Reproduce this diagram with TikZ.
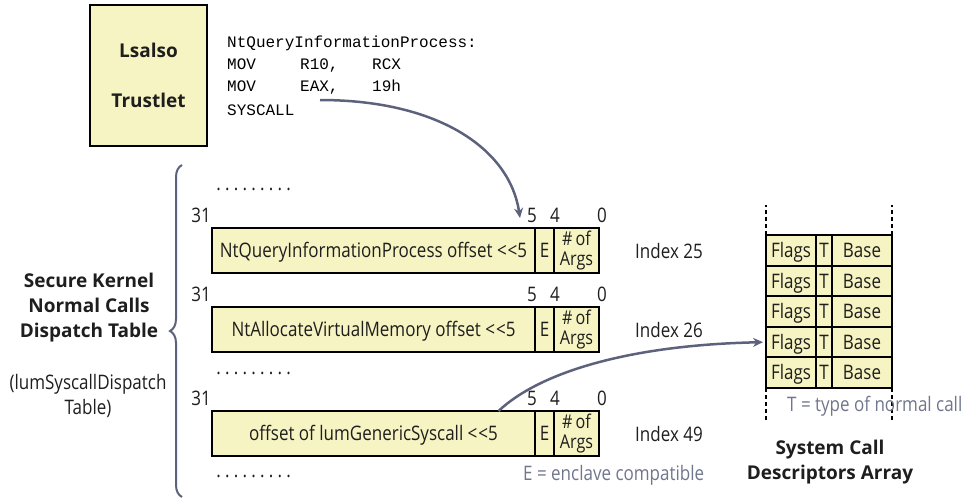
\documentclass[tikz,border=0pt]{standalone}
\usepackage{fontspec}
\setmainfont{Open Sans}[FakeStretch=0.85]
\setmonofont{Liberation Mono}
\newfontfamily\headfont{Open Sans}
\usetikzlibrary{arrows.meta, positioning, decorations.pathreplacing}
\definecolor{cellyellow}{RGB}{246, 244, 194}
\definecolor{slateline}{RGB}{92, 98, 124}
\definecolor{notegray}{RGB}{112, 118, 140}
\definecolor{inkdark}{RGB}{30, 30, 30}
\newcommand{\onedot}{\makebox[8.75pt]{.}}
\newcommand{\dotrow}{\onedot\onedot\onedot\onedot\onedot\onedot\onedot\onedot\onedot}

\begin{document}
\begin{tikzpicture}[x=1pt, y=-1pt,
    lbl/.style={font=\fontsize{20}{25}\selectfont, text=inkdark, inner sep=0, align=center},
    headlbl/.style={font=\headfont\bfseries\fontsize{19}{25}\selectfont, text=inkdark, inner sep=0, align=center},
    note/.style={font=\fontsize{20}{25}\selectfont, text=notegray, inner sep=0, anchor=west},
    cell/.style={draw=black, line width=2pt, fill=cellyellow, inner sep=0, outer sep=0,
      font=\fontsize{20}{18}\selectfont, text=inkdark, align=center},
    capcell/.style={cell, text height=14.2pt, text depth=0pt},
    codeline/.style={font=\ttfamily\fontsize{16}{22}\selectfont, anchor=west, inner sep=0, text=black},
    flow/.style={slateline, line width=2.5pt, -{Stealth[length=10pt, width=9pt]}}]
  \useasboundingbox (0,0) rectangle (974,499);

  % trustlet and its stub
  \node[cell, line width=2.5pt, minimum width=117pt, minimum height=141pt,
        font=\headfont\bfseries\fontsize{19}{50}\selectfont] (trustlet) at (148.5,75.5) {Lsalso\\Trustlet};
  \node[codeline] (code1) at (227,43) {NtQueryInformationProcess:};
  \node[codeline] (code2) at (227,66) {\makebox[73pt][l]{MOV}\makebox[72pt][l]{R10,}RCX};
  \node[codeline] (code3) at (227,87) {\makebox[73pt][l]{MOV}\makebox[72pt][l]{EAX,}19h};
  \node[codeline] (code4) at (227,110) {SYSCALL};

  % dispatch table entries
  \foreach \row/\top/\entry/\idx in {a/228/NtQueryInformationProcess offset <\kern1pt<5/25,
                                      b/307/NtAllocateVirtualMemory offset <\kern1pt<5/26,
                                      c/411/offset of lumGenericSyscall <\kern1pt<5/49} {
    \node[capcell, anchor=north west, minimum width=323pt, minimum height=45pt] (main\row) at (212,\top) {\entry};
    \node[capcell, minimum width=19pt, minimum height=45pt, right=0pt of main\row] (enc\row) {E};
    \node[cell, minimum width=45pt, minimum height=45pt, font=\fontsize{19}{19.5}\selectfont,
          right=0pt of enc\row] (args\row) {\#\,of\\Args};
    \node[lbl] (hi\row) at (201,\top-13) {31};
    \node[lbl] (five\row) at (532,\top-13) {5};
    \node[lbl] (four\row) at (555,\top-13) {4};
    \node[lbl] (zero\row) at (602,\top-13) {0};
    \node[lbl, anchor=west] (idx\row) at (635,\top+23) {Index \idx};
  }
  \node[lbl, anchor=base west] (dotsa) at (214,190) {\dotrow};
  \node[lbl, anchor=base west] (dotsb) at (214,374) {\dotrow};
  \node[lbl, anchor=base west] (dotsc) at (214,477) {\dotrow};
  \node[note] (enote) at (523,475) {E = enclave compatible};

  % brace and table name
  \draw[slateline, line width=2pt, decorate, decoration={brace, amplitude=12pt}] (182,497) -- (182,165);
  \node[headlbl] (sktable) at (89,308) {Secure Kernel\\Normal Calls\\Dispatch Table};
  \node[lbl] (lumname) at (88,396) {(lumSyscallDispatch\\Table)};

  % descriptors array
  \foreach \r in {0,...,4} {
    \node[capcell, anchor=north west, minimum width=50pt, minimum height=30.6pt] (flags\r) at (766,235+30.6*\r) {Flags};
    \node[capcell, minimum width=16pt, minimum height=30.6pt, right=0pt of flags\r] (type\r) {T};
    \node[capcell, minimum width=60pt, minimum height=30.6pt, right=0pt of type\r] (base\r) {Base};
  }
  \draw[line width=1.8pt, dash pattern=on 4pt off 3pt] (flags0.north west) -- ++(0,-30);
  \draw[line width=1.8pt, dash pattern=on 4pt off 3pt] (base0.north east) -- ++(0,-30);
  \draw[line width=1.8pt, dash pattern=on 4pt off 3pt] (flags4.south west) -- ++(0,32);
  \draw[line width=1.8pt, dash pattern=on 4pt off 3pt] (base4.south east) -- ++(0,32);
  \node[note] (tnote) at (787,406) {T = type of normal call};
  \node[headlbl] (dsarray) at (830,462) {System Call\\Descriptors Array};

  % calls
  \coordinate (callfrom) at (320,100);
  \coordinate (callto) at (520,218);
  \draw[flow] (callfrom) .. controls (440,100) and (510,150) .. (callto);
  \draw[flow, shorten >=3pt] ([xshift=125pt]mainc.north) .. controls (540,372) and (630,345) .. (flags3.west);
\end{tikzpicture}
\end{document}
